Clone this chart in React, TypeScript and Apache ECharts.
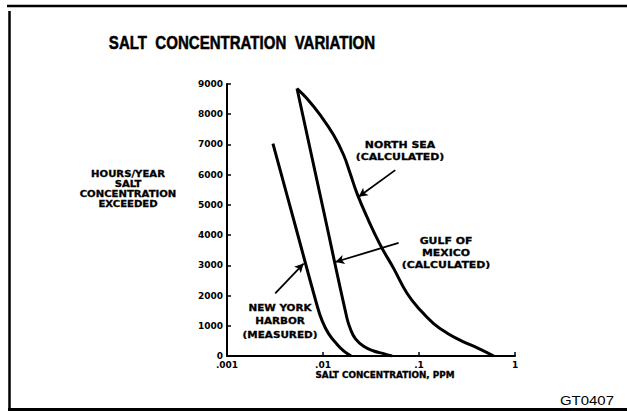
import React, { useEffect, useRef } from "react";
import * as echarts from "echarts";

const xTickLabels: Record<string, string> = { "0.001": ".001", "0.01": ".01", "0.1": ".1", "1": "1" };
const yTicks = [0, 1000, 2000, 3000, 4000, 5000, 6000, 7000, 8000, 9000];

const nyX = [0.00301, 0.0051, 0.00866, 0.00976, 0.01143, 0.01399, 0.0164, 0.0196];
const nyY = [7030, 4360, 1680, 1180, 740, 390, 170, 0];

const gulfX = [0.00536, 0.0101, 0.0178, 0.01927, 0.0217, 0.0265, 0.0337, 0.0428, 0.0524];
const gulfY = [8850, 4830, 1240, 900, 575, 320, 165, 80, 0];

const northX = [0.00536, 0.0068, 0.00937, 0.0129, 0.0164, 0.0192, 0.0226, 0.0287, 0.0396, 0.0544, 0.075, 0.1033, 0.141, 0.197, 0.283, 0.415, 0.6];
const northY = [8850, 8520, 7970, 7310, 6650, 6040, 5380, 4600, 3670, 2900, 2077, 1514, 1083, 752, 487, 255, 0];

// arrows: [fromX, fromY, toX, toY]
const arrows = [
  [0.0566, 6150, 0.0235, 5270],
  [0.0613, 3740, 0.01343, 3110],
  [0.00318, 2070, 0.00628, 3060],
];

const labelFont = "'DejaVu Sans', sans-serif";

function zip(xs: number[], ys: number[]) {
  return xs.map((x, i) => [x, ys[i]]);
}

export default function App() {
  const ref = useRef<HTMLDivElement>(null);
  useEffect(() => {
    document.body.style.margin = "0";
    const chart = echarts.init(ref.current!, null, { renderer: "svg" });
    const lineStyle = { color: "#000", width: 3 };
    const mkSeries = (name: string, data: number[][], extra: any = {}) => ({
      name,
      type: "line",
      data,
      smooth: 0.45,
      symbol: "none",
      lineStyle,
      ...extra,
    });
    const markLine = {
      silent: true,
      symbol: ["none", "arrow"],
      symbolSize: [7, 9],
      label: { show: false },
      lineStyle: { color: "#000", width: 1.8, type: "solid" },
      data: arrows.map((a) => [
        { coord: [a[0], a[1]] },
        { coord: [a[2], a[3]] },
      ]),
    };
    const annot = (x: number, y: number, text: string, size = 9.5, lh = 12, sx = 1.15) => ({
      type: "text",
      x,
      y,
      scaleX: sx,
      style: {
        text,
        fill: "#000",
        stroke: "#000",
        lineWidth: 0.3,
        font: `bold ${size}px ${labelFont}`,
        align: "center",
        verticalAlign: "middle",
        lineHeight: lh,
      },
    });
    chart.setOption({
      animation: false,
      backgroundColor: "#fff",
      grid: { left: 227, right: 112, top: 84, bottom: 55, containLabel: false },
      xAxis: {
        type: "log",
        logBase: 10,
        min: 0.001,
        max: 1,
        axisLine: { show: true, lineStyle: { color: "#000", width: 2 } },
        axisTick: { show: true, inside: true, length: 4, lineStyle: { color: "#000", width: 1.5 } },
        minorTick: { show: false },
        splitLine: { show: false },
        axisLabel: {
          margin: 4,
          color: "#000",
          fontFamily: labelFont,
          fontWeight: "bold",
          fontSize: 9,
          formatter: (v: number) => xTickLabels[String(v)] ?? String(v),
        },
      },
      yAxis: {
        type: "value",
        min: yTicks[0],
        max: yTicks[yTicks.length - 1],
        interval: 1000,
        axisLine: { show: true, lineStyle: { color: "#000", width: 2 } },
        axisTick: { show: true, inside: true, length: 4, lineStyle: { color: "#000", width: 1.5 } },
        splitLine: { show: false },
        axisLabel: {
          margin: 4,
          color: "#000",
          fontFamily: labelFont,
          fontWeight: "bold",
          fontSize: 9,
          formatter: (v: number) => String(v),
        },
      },
      series: [
        mkSeries("New York Harbor (measured)", zip(nyX, nyY), { markLine }),
        mkSeries("Gulf of Mexico (calculated)", zip(gulfX, gulfY)),
        mkSeries("North Sea (calculated)", zip(northX, northY)),
      ],
      graphic: [
        { type: "line", shape: { x1: 7, y1: 6, x2: 627, y2: 6 }, style: { stroke: "#000", lineWidth: 2.5 } },
        { type: "line", shape: { x1: 9.5, y1: 11, x2: 9.5, y2: 409 }, style: { stroke: "#000", lineWidth: 2.5 } },
        { type: "line", shape: { x1: 8, y1: 409.5, x2: 627, y2: 409.5 }, style: { stroke: "#000", lineWidth: 3 } },
        {
          type: "text",
          x: 242,
          y: 43,
          scaleX: 0.86,
          style: {
            text: "SALT  CONCENTRATION  VARIATION",
            fill: "#000",
            stroke: "#000",
            lineWidth: 0.5,
            font: "bold 17.5px 'Liberation Sans', Arial, sans-serif",
            align: "center",
            verticalAlign: "middle",
          },
        },
        annot(128, 188.3, "HOURS/YEAR\nSALT\nCONCENTRATION\nEXCEEDED", 9.2, 10, 1.1),
        annot(385, 375, "SALT CONCENTRATION, PPM", 8.5, 12, 1.04),
        annot(400, 151, "NORTH SEA\n(CALCULATED)", 9.5, 12),
        annot(446, 252.5, "GULF OF\nMEXICO\n(CALCULATED)", 9.5, 12),
        annot(280, 321, "NEW YORK\nHARBOR\n(MEASURED)", 9.5, 13.5, 1.1),
        {
          type: "text",
          x: 560,
          y: 400,
          scaleX: 1.15,
          style: {
            text: "GT0407",
            fill: "#000",
            font: "13px 'Liberation Sans', Arial, sans-serif",
            align: "left",
            verticalAlign: "middle",
          },
        },
      ],
    });
    return () => chart.dispose();
  }, []);
  return <div ref={ref} style={{ width: 627, height: 411 }} />;
}
